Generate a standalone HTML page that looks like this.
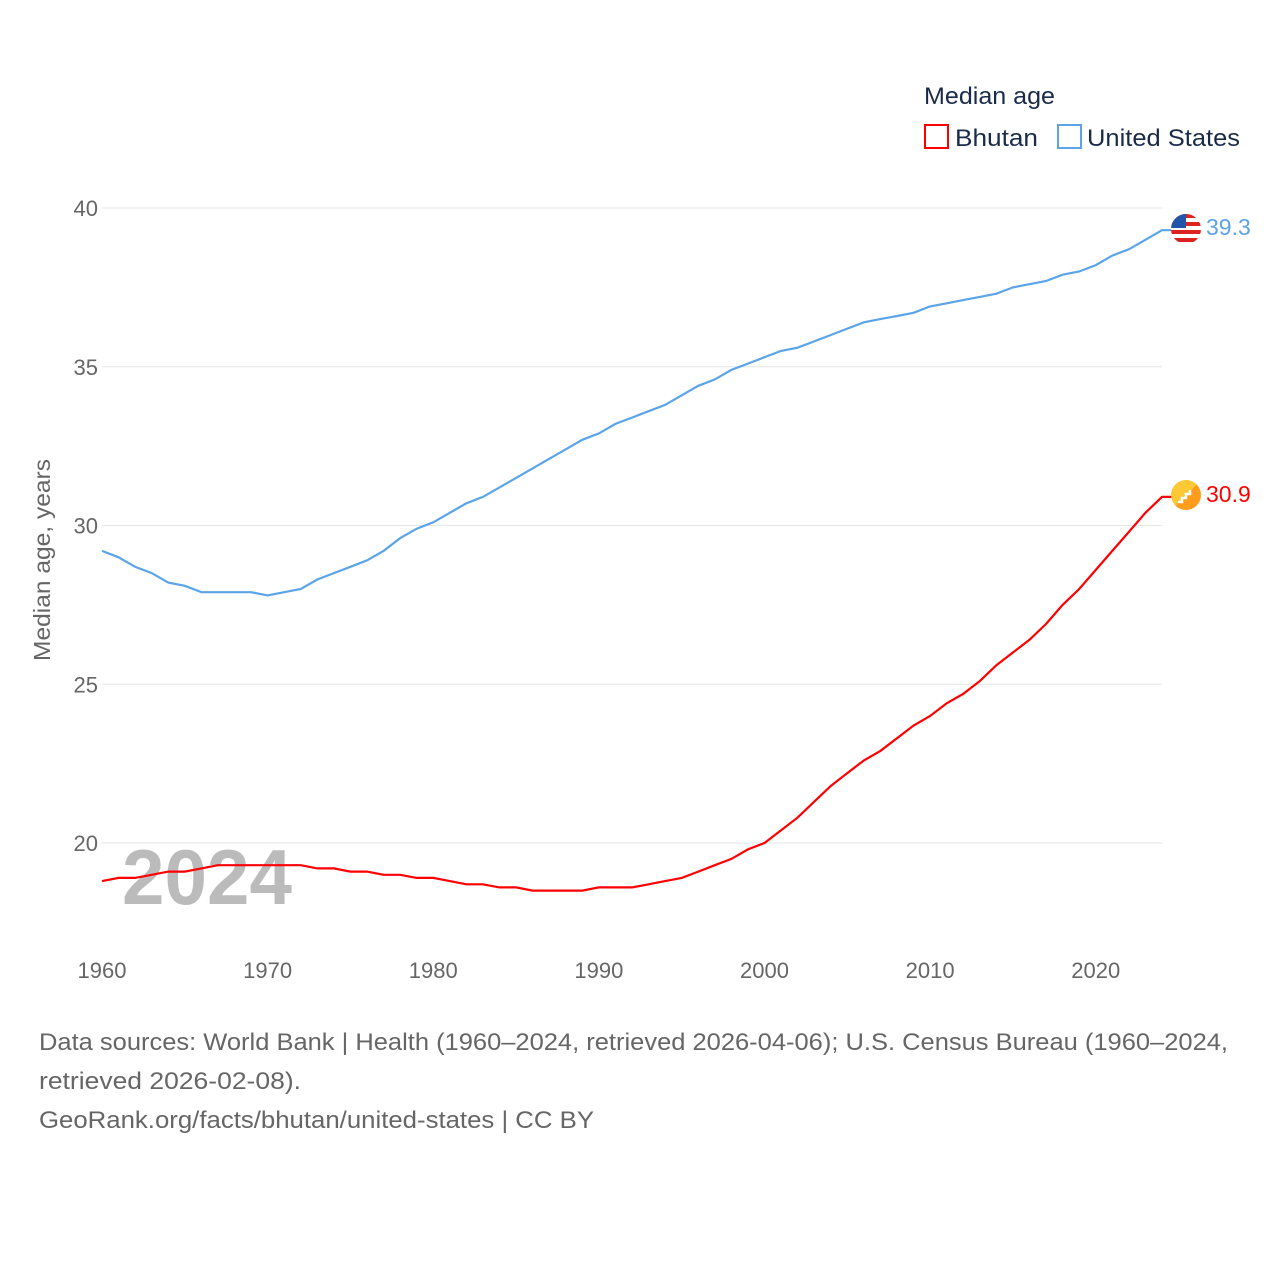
<!DOCTYPE html>
<html><head><meta charset="utf-8"><style>
body{margin:0;background:#fff;width:1280px;height:1280px;overflow:hidden;font-family:"Liberation Sans",sans-serif}
</style></head><body>
<svg width="1280" height="1280" style="font-family:'Liberation Sans',sans-serif">
<defs>
<clipPath id="cu"><circle cx="1186" cy="229" r="15"/></clipPath>
<linearGradient id="gb" x1="0" y1="0" x2="1" y2="1"><stop offset="0.5" stop-color="#fcc934"/><stop offset="0.5" stop-color="#ff9c1a"/></linearGradient>
</defs>
<g id="grid"></g>
<g id="xticks"></g>
<text transform="translate(50,560) rotate(-90)" text-anchor="middle" font-size="23" fill="#666" textLength="202" lengthAdjust="spacingAndGlyphs">Median age, years</text>
<text x="122" y="904" font-size="78" font-weight="bold" fill="#bbb" textLength="170" lengthAdjust="spacingAndGlyphs">2024</text>
<g id="lines"></g>
<g clip-path="url(#cu)">
<rect x="1171" y="214" width="30" height="30" fill="#fff"/>
<rect x="1171" y="214" width="30" height="4" fill="#d22"/><rect x="1171" y="222" width="30" height="4" fill="#d22"/><rect x="1171" y="230" width="30" height="4" fill="#d22"/><rect x="1171" y="238" width="30" height="4" fill="#d22"/>
<rect x="1171" y="214" width="15" height="14" fill="#2255aa"/>
</g>
<g><circle cx="1186" cy="495" r="15" fill="url(#gb)"/><path d="M1178 502 l4 0 0 -4 4 0 0 -4 4 0 0 -4" stroke="#fff" stroke-width="2.5" fill="none"/></g>
<text x="1206" y="235" font-size="23" fill="#5ba4ea">39.3</text>
<text x="1206" y="502" font-size="23" fill="#f00">30.9</text>
<text x="924" y="104" font-size="24" fill="#1a2b4a" textLength="131" lengthAdjust="spacingAndGlyphs">Median age</text>
<g><rect x="925" y="125" width="23" height="23" fill="none" stroke="#f00" stroke-width="2"/><text x="955" y="146" font-size="24" fill="#1a2b4a" textLength="83" lengthAdjust="spacingAndGlyphs">Bhutan</text></g>
<g><rect x="1058" y="125" width="23" height="23" fill="none" stroke="#5ba4ea" stroke-width="2"/><text x="1087" y="146" font-size="24" fill="#1a2b4a" textLength="153" lengthAdjust="spacingAndGlyphs">United States</text></g>
<g font-size="24" fill="#666">
<text x="39" y="1050" textLength="1189" lengthAdjust="spacingAndGlyphs">Data sources: World Bank | Health (1960–2024, retrieved 2026-04-06); U.S. Census Bureau (1960–2024,</text>
<text x="39" y="1089" textLength="262" lengthAdjust="spacingAndGlyphs">retrieved 2026-02-08).</text>
<text x="39" y="1128" textLength="555" lengthAdjust="spacingAndGlyphs">GeoRank.org/facts/bhutan/united-states | CC BY</text>
</g>
</svg>
<script>
const years=[];for(let y=1960;y<=2024;y++)years.push(y);
const usValues=[29.2,29.0,28.7,28.5,28.2,28.1,27.9,27.9,27.9,27.9,27.8,27.9,28.0,28.3,28.5,28.7,28.9,29.2,29.6,29.9,30.1,30.4,30.7,30.9,31.2,31.5,31.8,32.1,32.4,32.7,32.9,33.2,33.4,33.6,33.8,34.1,34.4,34.6,34.9,35.1,35.3,35.5,35.6,35.8,36.0,36.2,36.4,36.5,36.6,36.7,36.9,37.0,37.1,37.2,37.3,37.5,37.6,37.7,37.9,38.0,38.2,38.5,38.7,39.0,39.3];
const bhutanValues=[18.8,18.9,18.9,19.0,19.1,19.1,19.2,19.3,19.3,19.3,19.3,19.3,19.3,19.2,19.2,19.1,19.1,19.0,19.0,18.9,18.9,18.8,18.7,18.7,18.6,18.6,18.5,18.5,18.5,18.5,18.6,18.6,18.6,18.7,18.8,18.9,19.1,19.3,19.5,19.8,20.0,20.4,20.8,21.3,21.8,22.2,22.6,22.9,23.3,23.7,24.0,24.4,24.7,25.1,25.6,26.0,26.4,26.9,27.5,28.0,28.6,29.2,29.8,30.4,30.9];
const yTicks=[20,25,30,35,40];
const xTicks=[1960,1970,1980,1990,2000,2010,2020];
const NS='http://www.w3.org/2000/svg';
const xs=y=>102+(y-1960)*(1162-102)/64;
const ys=v=>843-(v-20)*(843-208)/20;
const grid=document.getElementById('grid');
yTicks.forEach(t=>{
 const l=document.createElementNS(NS,'line');
 
 
 l.setAttribute('x1',102);l.setAttribute('x2',1162);l.setAttribute('y1',ys(t));l.setAttribute('y2',ys(t));
 l.setAttribute('stroke','#e6e6e6');l.setAttribute('stroke-width','1');grid.appendChild(l);
 const tx=document.createElementNS(NS,'text');
 
 
 tx.setAttribute('x',98);tx.setAttribute('y',ys(t)+8);tx.setAttribute('text-anchor','end');
 tx.setAttribute('font-size','22');tx.setAttribute('fill','#666');tx.textContent=t;grid.appendChild(tx);
});
const xt=document.getElementById('xticks');
xTicks.forEach(t=>{
 const tx=document.createElementNS(NS,'text');
 
 
 tx.setAttribute('x',xs(t));tx.setAttribute('y',978);tx.setAttribute('text-anchor','middle');
 tx.setAttribute('font-size','22');tx.setAttribute('fill','#666');tx.textContent=t;xt.appendChild(tx);
});
const lines=document.getElementById('lines');
function drawLine(vals,color,name){
 let d=vals.map((v,i)=>(i?'L':'M')+xs(years[i]).toFixed(1)+' '+ys(v).toFixed(1)).join(' ');
 d+=' L1172 '+ys(vals[vals.length-1]).toFixed(1);
 const p=document.createElementNS(NS,'path');
 
 
 p.setAttribute('d',d);p.setAttribute('fill','none');p.setAttribute('stroke',color);p.setAttribute('stroke-width','2.2');
 lines.appendChild(p);
}
drawLine(usValues,'#5ba4ea','us-line');
drawLine(bhutanValues,'#f00','bhutan-line');
</script>
</body></html>
